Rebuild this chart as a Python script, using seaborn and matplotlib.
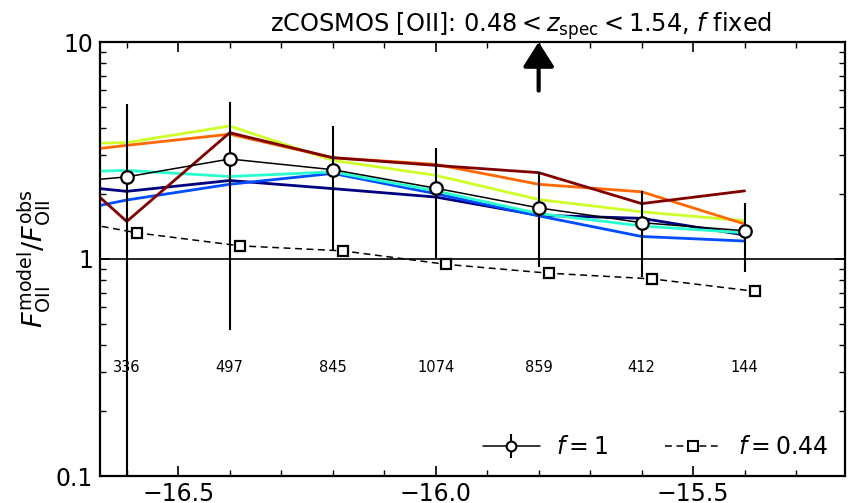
import numpy as np
import pandas as pd
import matplotlib
matplotlib.use("Agg")
import matplotlib.pyplot as plt
from matplotlib.lines import Line2D
import matplotlib.ticker as mticker
import seaborn as sns

# ---------------- data ----------------
x_bins = [-16.8, -16.6, -16.4, -16.2, -16.0, -15.8, -15.6, -15.4]
model_0 = [2.29, 2.05, 2.30, 2.11, 1.93, 1.59, 1.54, 1.29]   # navy
model_1 = [1.50, 1.87, 2.21, 2.48, 2.00, 1.58, 1.27, 1.21]   # blue
model_2 = [2.49, 2.56, 2.40, 2.52, 2.06, 1.62, 1.42, 1.32]   # turquoise
model_3 = [3.35, 3.44, 4.10, 2.85, 2.43, 1.88, 1.65, 1.50]   # yellow-green
model_4 = [2.94, 3.34, 3.76, 2.93, 2.73, 2.21, 2.04, 1.45]   # orange
model_5 = [3.97, 1.49, 3.82, 2.93, 2.70, 2.50, 1.80, 2.06]   # dark red

f1_line_y = [2.17, 2.39, 2.89, 2.58, 2.12, 1.72, 1.47, 1.35]
f1_x = [-16.6, -16.4, -16.2, -16.0, -15.8, -15.6, -15.4]
f1_y = [2.39, 2.89, 2.58, 2.12, 1.72, 1.47, 1.35]
f1_lo = [0.05, 0.47, 1.10, 1.01, 0.92, 0.83, 0.87]
f1_hi = [5.18, 5.31, 4.10, 3.26, 2.52, 2.06, 1.82]

f044_x = [-16.78, -16.58, -16.38, -16.18, -15.98, -15.78, -15.58, -15.38]
f044_y = [1.61, 1.32, 1.15, 1.09, 0.945, 0.86, 0.81, 0.71]

counts = [336, 497, 845, 1074, 859, 412, 144]
count_x = [-16.6, -16.4, -16.2, -16.0, -15.8, -15.6, -15.4]

# ---------------- style ----------------
sns.set_style("ticks", {"axes.edgecolor": "black", "xtick.color": "black",
                        "ytick.color": "black", "text.color": "black",
                        "axes.labelcolor": "black"})
plt.rcParams['font.family'] = ['DejaVu Sans']
plt.rcParams['mathtext.fontset'] = 'dejavusans'

fig = plt.figure(figsize=(8.48, 5.03), dpi=100)
ax = fig.add_axes([100/848, 1-476/503, 745/848, 434/503])

models = [model_0, model_1, model_2, model_3, model_4, model_5]
rows = []
for i, m in enumerate(models):
    for xv, yv in zip(x_bins, m):
        rows.append({"x": xv, "y": yv, "model": f"m{i}"})
df = pd.DataFrame(rows)
jet = plt.get_cmap('jet')
palette = {f"m{i}": jet(i / 5) for i in range(6)}
sns.lineplot(data=df, x="x", y="y", hue="model", palette=palette,
             linewidth=2.0, ax=ax, legend=False, estimator=None, sort=True, zorder=2)

# f = 0.44 dashed
df044 = pd.DataFrame({"x": f044_x, "y": f044_y})
sns.lineplot(data=df044, x="x", y="y", ax=ax, color='black',
             linewidth=1.1, dashes=False, marker='s', markersize=7.5, markerfacecolor='white',
             markeredgecolor='black', markeredgewidth=1.6, legend=False, zorder=4)
ax.lines[-1].set_dashes((4.5, 3.0))

# f = 1 line + errorbars
dfl = pd.DataFrame({"x": x_bins, "y": f1_line_y})
sns.lineplot(data=dfl, x="x", y="y", ax=ax, color='black', linewidth=1.1,
             legend=False, zorder=5)
f1y = np.array(f1_y)
yerr = [f1y - np.array(f1_lo), np.array(f1_hi) - f1y]
ax.errorbar(f1_x, f1_y, yerr=yerr, fmt='o', color='black', ecolor='black',
            elinewidth=1.5, capsize=0, markersize=9, markerfacecolor='white',
            markeredgecolor='black', markeredgewidth=1.6, zorder=6)

ax.axhline(1.0, color='black', linewidth=1.2, zorder=3)

for xv, c in zip(count_x, counts):
    ax.text(xv, 0.315, str(c), ha='center', va='center', fontsize=10.5)

ax.annotate('', xy=(-15.8, 1.0), xycoords=('data', 'axes fraction'),
            xytext=(-15.8, 0.888), textcoords=('data', 'axes fraction'),
            arrowprops=dict(arrowstyle='-|>,head_width=0.95,head_length=1.5',
                            color='black', lw=3.0, shrinkA=0, shrinkB=0),
            annotation_clip=False)

ax.set_yscale('log')
ax.set_ylim(0.1, 10)
ax.set_xlim(-16.652, -15.205)
ax.xaxis.set_major_locator(mticker.MultipleLocator(0.5))
ax.xaxis.set_minor_locator(mticker.MultipleLocator(0.1))
ax.xaxis.set_major_formatter(mticker.FuncFormatter(lambda v, p: f"{v:.1f}".replace('-', '\u2212')))
ax.yaxis.set_major_locator(mticker.FixedLocator([0.1, 1, 10]))
ax.yaxis.set_major_formatter(mticker.FixedFormatter(['0.1', '1', '10']))
ax.yaxis.set_minor_locator(mticker.LogLocator(base=10, subs=np.arange(2, 10)))
ax.yaxis.set_minor_formatter(mticker.NullFormatter())

ax.tick_params(which='both', direction='in', top=True, right=True, labelsize=17)
ax.tick_params(which='major', length=7, width=1.2, pad=5)
ax.tick_params(axis='x', which='major', pad=4)
ax.tick_params(which='minor', length=4, width=1.0)
for s in ax.spines.values():
    s.set_linewidth(1.6)
    s.set_color('black')

ax.set_xlabel('')
ax.set_ylabel(r'$F^{\rm model}_{\rm OII}/F^{\rm obs}_{\rm OII}$', fontsize=19.5, labelpad=2)
ax.set_title(r'zCOSMOS [OII]: $0.48 < z_{\rm spec} < 1.54$, $f$ fixed', fontsize=17.3,
             pad=3, x=0.565)

h1 = ax.errorbar([np.nan], [np.nan], yerr=[[np.nan], [np.nan]], fmt='-o', color='black',
                 linewidth=1.1, elinewidth=1.5, markersize=7, markerfacecolor='white',
                 markeredgecolor='black', markeredgewidth=1.5)
h2 = Line2D([], [], color='black', linestyle=(0, (4.5, 3.0)), linewidth=1.1, marker='s',
            markersize=7, markerfacecolor='white', markeredgecolor='black', markeredgewidth=1.5)
ax.legend([h1, h2], [r'$f = 1$', r'$f = 0.44$'], loc='lower right', ncol=2,
          frameon=False, fontsize=17, numpoints=1, handlelength=2.4,
          handletextpad=0.7, columnspacing=2.4, borderaxespad=0.3)

fig.savefig('out.png', dpi=100)
